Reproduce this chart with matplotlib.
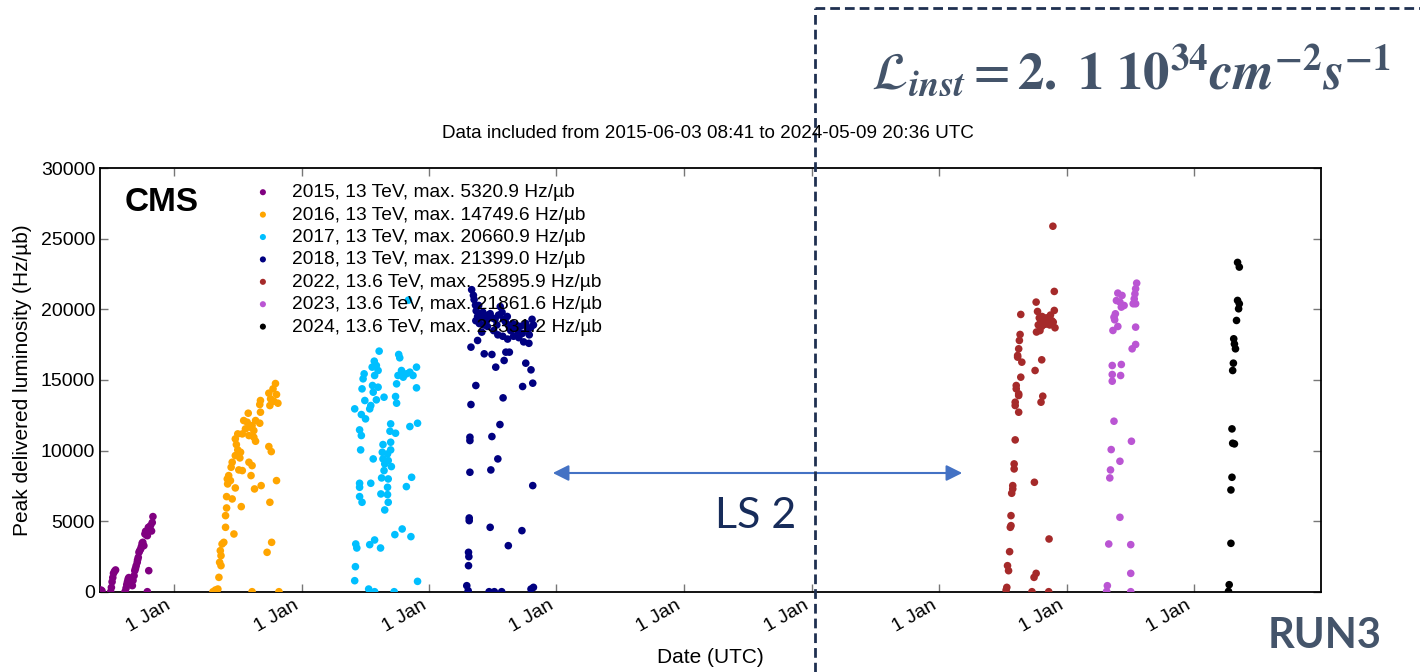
import datetime as dt

import matplotlib
matplotlib.use("Agg")
import matplotlib.dates as mdates
import matplotlib.pyplot as plt
from matplotlib.lines import Line2D
from matplotlib.patches import FancyArrowPatch

plt.rcParams["font.family"] = ["Liberation Sans", "DejaVu Sans"]
plt.rcParams["mathtext.fontset"] = "stix"

# (day of year, peak delivered luminosity in Hz/ub)
run2015 = [(157, 120), (160, 60), (185, 0), (187, 300), (189, 700), (191, 1000), (193, 1300),
           (196, 1450), (199, 1540), (226, 0), (229, 250), (231, 500), (233, 700), (235, 900),
           (237, 1000), (247, 430), (249, 800), (252, 1130), (254, 1490), (256, 1650),
           (258, 1840), (261, 2080), (262, 2250), (264, 2430), (266, 2790), (268, 2900),
           (271, 3030), (273, 3200), (275, 3430), (277, 3500), (280, 3260), (283, 4090),
           (285, 4280), (288, 4000), (290, 3970), (293, 4560), (296, 4400), (299, 4680),
           (302, 4300), (304, 4900), (306, 5321), (294, 1490), (290, 0)]

run2016 = [(292, 14750), (285, 14373), (273, 14066), (295, 13971), (278, 13664), (287, 13498),
           (299, 13356), (276, 13191), (249, 13546), (247, 13262), (249, 12718), (214, 12647),
           (201, 12127), (211, 12009), (235, 12127), (225, 11772), (247, 11938), (206, 11536),
           (220, 11654), (230, 11418), (197, 11181), (184, 11181), (216, 11063), (230, 10945),
           (235, 10661), (177, 10827), (180, 10425), (184, 10047), (192, 9881), (177, 9645),
           (190, 9479), (168, 9172), (165, 8817), (187, 8628), (197, 8581), (158, 8227),
           (154, 7990), (163, 7872), (155, 7635), (177, 7352), (216, 9172), (225, 8935),
           (222, 8227), (232, 7281), (251, 7517), (273, 10283), (280, 9928), (295, 7872),
           (152, 6737), (168, 6572), (194, 6028), (276, 6336), (152, 5933), (149, 5390),
           (149, 4562), (173, 4089), (144, 3498), (139, 3380), (134, 2908), (136, 2553),
           (132, 2080), (136, 1844), (130, 1016), (281, 3498), (268, 2790), (120, 118),
           (127, 189), (225, 0), (302, 0), (113, 0)]

run2017 = [(307, 20661), (223, 17045), (279, 16808), (282, 16572), (209, 16335), (215, 16028),
           (203, 15910), (220, 15673), (180, 15437), (177, 15083), (210, 15319), (287, 15673),
           (301, 15437), (330, 15910), (311, 15555), (277, 15319), (292, 15201), (320, 15319),
           (273, 14728), (220, 14491), (204, 14610), (174, 14373), (206, 14137), (330, 14444),
           (237, 13782), (215, 13593), (182, 13546), (270, 13830), (273, 13357), (199, 13191),
           (196, 12955), (153, 12955), (172, 12553), (184, 12246), (256, 11891), (311, 11702),
           (333, 11938), (254, 11371), (270, 11229), (167, 11465), (172, 11064), (256, 10591),
           (234, 10426), (256, 10047), (170, 10047), (232, 9881), (247, 9763), (206, 9409),
           (234, 9409), (249, 9291), (239, 9054), (258, 8865), (237, 8581), (230, 8061),
           (249, 7990), (316, 8108), (301, 7446), (167, 7683), (167, 7399), (199, 7683),
           (247, 7399), (228, 6927), (247, 6879), (167, 6738), (174, 6336), (249, 6336),
           (239, 5792), (289, 4444), (268, 4043), (314, 3901), (210, 3664), (196, 3333),
           (156, 3381), (159, 3097), (227, 3097), (155, 1773), (153, 780), (333, 733),
           (193, 189), (210, 0), (266, 0)]

run2018 = [(123, 21399), (128, 21000), (130, 20700), (134, 20300), (143, 20283), (136, 19900),
           (140, 19500), (146, 19700), (150, 19400), (155, 19800), (160, 19500), (165, 19200),
           (170, 19600), (135, 19200), (145, 19000), (158, 18900), (168, 18800), (176, 19700),
           (182, 19400), (190, 19300), (195, 18900), (200, 19600), (205, 20200), (210, 19800),
           (215, 19300), (220, 19100), (225, 19500), (230, 18800), (235, 18500), (240, 19000),
           (245, 18700), (250, 18900), (256, 18400), (262, 18800), (268, 18300), (273, 18900),
           (278, 19000), (283, 18600), (288, 18200), (292, 18700), (296, 19300), (300, 18900),
           (186, 18500), (198, 18200), (212, 18100), (226, 17900), (243, 18100), (258, 18000),
           (272, 17700), (287, 17600), (152, 18392), (140, 17801), (121, 17328), (159, 16855),
           (181, 16808), (221, 16973), (231, 16973), (216, 16383), (192, 15910), (278, 16193),
           (293, 15720), (298, 14775), (269, 14539), (135, 14609), (121, 13262), (213, 13735),
           (204, 11844), (181, 10993), (118, 10946), (118, 10709), (198, 9409), (178, 8628),
           (118, 8463), (298, 7518), (116, 5224), (116, 5035), (176, 4562), (267, 4326),
           (228, 3262), (114, 2790), (115, 2482), (114, 1844), (109, 426), (113, 71),
           (173, 0), (188, 0), (209, 0), (293, 189), (300, 308)]

run2022 = [(327, 25896), (331, 21276), (279, 20519), (283, 19857), (331, 19928), (235, 19644),
           (288, 19400), (292, 19200), (296, 19500), (300, 19300), (304, 19100), (308, 19400),
           (312, 19000), (316, 19300), (320, 19600), (324, 19200), (328, 19100), (333, 18700),
           (285, 18900), (295, 18800), (305, 18950), (318, 18900), (280, 18400), (290, 18500),
           (233, 18226), (231, 17801), (229, 17210), (226, 16737), (226, 16619), (238, 16264),
           (295, 16430), (276, 15673), (235, 15200), (222, 14609), (222, 14373), (229, 14018),
           (229, 13900), (298, 13853), (293, 13427), (219, 13427), (219, 13191), (229, 12718),
           (219, 10756), (216, 9054), (216, 8699), (212, 7517), (212, 7281), (209, 6974),
           (274, 7754), (207, 5390), (207, 4680), (205, 4562), (316, 3735), (203, 2837),
           (197, 1844), (200, 1489), (279, 1300), (273, 1016), (195, 307), (193, 118),
           (267, 0), (315, 0)]

run2023 = [(202, 21862), (199, 21465), (197, 21100), (195, 20750), (192, 20401), (199, 20401),
           (148, 21157), (160, 20990), (144, 20630), (154, 20520), (166, 20280), (158, 20164),
           (141, 19691), (137, 19450), (139, 19265), (134, 18510), (148, 18793), (199, 18746),
           (199, 17517), (189, 17210), (132, 16028), (158, 16099), (132, 15389), (156, 15318),
           (132, 14916), (137, 12080), (187, 10661), (129, 10070), (154, 9243), (127, 8628),
           (125, 8061), (154, 5272), (122, 3380), (185, 3333), (185, 1300), (118, 425),
           (116, 23), (185, 0)]

run2024 = [(126, 23331), (131, 23001), (126, 20638), (131, 20400), (129, 20047), (123, 19219),
           (115, 17919), (117, 17550), (120, 17210), (114, 16193), (112, 15673), (110, 11536),
           (112, 10519), (117, 10472), (110, 8108), (107, 7210), (107, 3428), (102, 496),
           (100, 24)]

years = [2015, 2016, 2017, 2018, 2022, 2023, 2024]
runs = [run2015, run2016, run2017, run2018, run2022, run2023, run2024]
labels = ["2015, 13 TeV, max. 5320.9 Hz/µb", "2016, 13 TeV, max. 14749.6 Hz/µb",
          "2017, 13 TeV, max. 20660.9 Hz/µb", "2018, 13 TeV, max. 21399.0 Hz/µb",
          "2022, 13.6 TeV, max. 25895.9 Hz/µb", "2023, 13.6 TeV, max. 21861.6 Hz/µb",
          "2024, 13.6 TeV, max. 23331.2 Hz/µb"]
colors = ["purple", "orange", "deepskyblue", "navy", "brown", "mediumorchid", "black"]

x_start = dt.datetime(2015, 6, 3, 8, 41)
x_end = dt.datetime(2024, 12, 30)

fig = plt.figure(figsize=(14.2, 6.72), dpi=100)
ax = fig.add_axes([100 / 1420, 1 - 591.7 / 672, 1221 / 1420, 423.4 / 672])

for year, run, lab, col in zip(years, runs, labels, colors):
    dates = [dt.datetime(year, 1, 1) + dt.timedelta(days=d - 1) for d, _ in run]
    vals = [v for _, v in run]
    ax.scatter(dates, vals, s=30, color=col, edgecolors="none", label=lab, zorder=3)

ax.set_xlim(x_start, x_end)
ax.set_ylim(0, 30000)
ax.set_yticks(range(0, 30001, 5000))
ax.xaxis.set_major_locator(mdates.YearLocator())
ax.xaxis.set_major_formatter(mdates.DateFormatter("%-d %b"))
ax.tick_params(direction="in", top=True, right=True, labelsize=14, length=6, width=1,
               color="#777777")
for lbl in ax.get_xticklabels():
    lbl.set_rotation(30)
    lbl.set_ha("right")
for sp in ax.spines.values():
    sp.set_linewidth(1.3)
ax.set_xlabel("Date (UTC)", fontsize=15, labelpad=9)
ax.set_ylabel("Peak delivered luminosity (Hz/µb)", fontsize=15, labelpad=6)

ax.text(0.02, 0.955, "CMS", transform=ax.transAxes, fontsize=24, fontweight="bold",
        va="top", ha="left")
ax.legend(loc="upper left", bbox_to_anchor=(0.113, 0.995), frameon=False, fontsize=13.8,
          markerscale=0.8, handletextpad=0.9, labelspacing=0.26, borderpad=0.2,
          handlelength=1.2)

fig.text(708 / 1420, 1 - 134 / 672,
         "Data included from 2015-06-03 08:41 to 2024-05-09 20:36 UTC",
         fontsize=13.6, ha="center", va="center")

# slide overlays
box_col = "#1f3050"
fig.add_artist(Line2D([815 / 1420, 815 / 1420], [0, 1 - 8 / 672], transform=fig.transFigure,
                      color=box_col, lw=2, ls=(0, (3.5, 1.8))))
fig.add_artist(Line2D([815 / 1420, 1], [1 - 8 / 672, 1 - 8 / 672], transform=fig.transFigure,
                      color=box_col, lw=2, ls=(0, (3.5, 1.8))))
fig.text(1131 / 1420, 1 - 72 / 672,
         r"$\mathbfit{\mathcal{L}}_{\mathbfit{inst}} = \mathbf{2.\ 1\ 10}^{\mathbf{34}}"
         r"\mathbfit{cm}^{\mathbf{-2}}\mathbfit{s}^{\mathbf{-1}}$",
         fontsize=38, color="#44546a", ha="center", va="center")
fig.text(1325 / 1420, 1 - 636 / 672, "RUN3", fontsize=30, fontweight="bold",
         family="Lato", color="#44546a", ha="center", va="center")
fig.text(756 / 1420, 1 - 516 / 672, "LS 2", fontsize=31, family="Lato",
         color="#172c5a", ha="center", va="center")
fig.add_artist(FancyArrowPatch((550 / 1420, 1 - 473 / 672), (965 / 1420, 1 - 473 / 672),
                               transform=fig.transFigure, arrowstyle="<|-|>",
                               mutation_scale=24, color="#4472c4", lw=1.5))

fig.savefig("out.png", dpi=100)
